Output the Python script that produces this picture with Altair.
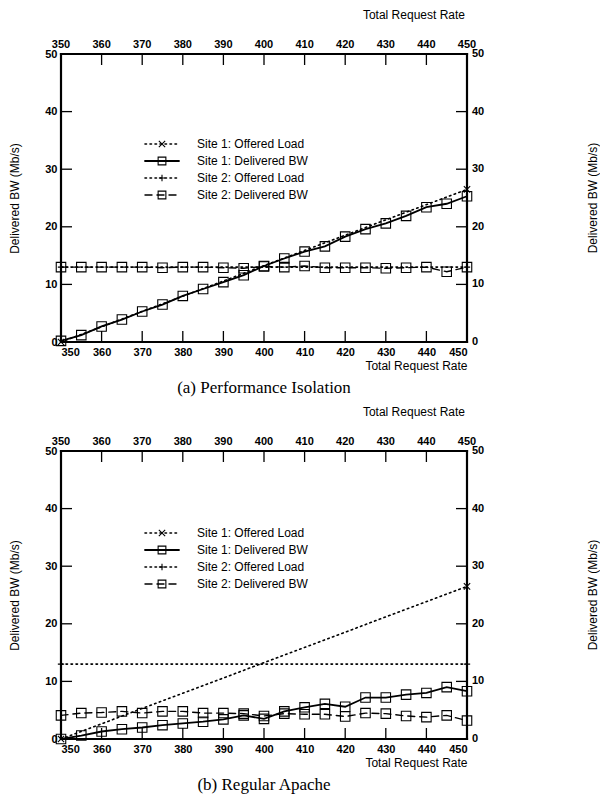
import altair as alt
import pandas as pd

# ---------------- data ----------------
X_RATE = [350, 355, 360, 365, 370, 375, 380, 385, 390, 395, 400,
          405, 410, 415, 420, 425, 430, 435, 440, 445, 450]

A_S1_DELIV = [0.2, 1.2, 2.7, 3.9, 5.3, 6.5, 8.0, 9.2, 10.4, 11.6, 13.2,
              14.5, 15.7, 16.6, 18.3, 19.6, 20.6, 21.9, 23.4, 24.0, 25.3]
A_S2_DELIV = [13.0, 13.0, 13.0, 13.0, 13.0, 12.9, 13.0, 13.0, 12.9, 12.8, 13.1,
              13.0, 13.2, 12.9, 12.9, 12.9, 12.8, 12.9, 13.0, 12.2, 13.0]

B_S1_DELIV = [0.0, 0.6, 1.3, 1.7, 2.0, 2.4, 2.7, 3.0, 3.4, 4.1, 3.5,
              4.8, 5.5, 6.1, 5.6, 7.2, 7.2, 7.7, 8.0, 9.0, 8.3]
B_S2_DELIV = [4.1, 4.5, 4.6, 4.8, 4.5, 4.8, 4.8, 4.5, 4.5, 4.4, 4.0,
              4.4, 4.3, 4.3, 3.9, 4.5, 4.4, 4.0, 3.8, 4.1, 3.2]

OFFER_X = [350, 450]
S1_OFFER = [0.0, 26.5]
S2_OFFER = [13.0, 13.0]

X_TICKS = [350, 360, 370, 380, 390, 400, 410, 420, 430, 440, 450]
Y_TICKS = [0, 10, 20, 30, 40, 50]

LEGEND = ["Site 1: Offered Load", "Site 1: Delivered BW",
          "Site 2: Offered Load", "Site 2: Delivered BW"]
CAPTIONS = ["(a) Performance Isolation", "(b) Regular Apache"]
X_TITLE = "Total Request Rate"
Y_TITLE = "Delivered BW (Mb/s)"

# ---------------- styling ----------------
W, H = 406, 288
TICK = 11
SANS = "Liberation Sans"
X_PATH = "M-1,-1L1,1M-1,1L1,-1"
PLUS_PATH = "M-1,0L1,0M0,-1L0,1"
TICK_UP = "M0,0L0,-2"
TICK_DOWN = "M0,0L0,2"
TICK_RIGHT = "M0,0L2,0"
TICK_LEFT = "M0,0L-2,0"
DOT = [1.5, 3.5]
DASH = [7, 5]

X_MIN, X_MAX = X_TICKS[0], X_TICKS[-1]
Y_MIN, Y_MAX = Y_TICKS[0], Y_TICKS[-1]

xscale = alt.Scale(domain=[X_MIN, X_MAX], nice=False, zero=False)
yscale = alt.Scale(domain=[Y_MIN, Y_MAX], nice=False)

lab = dict(labelFont=SANS, labelFontSize=11, labelFontWeight="bold",
           labelColor="black", titleFont=SANS, titleFontSize=12,
           titleFontWeight="normal", titleColor="black",
           domain=False, ticks=False, grid=False)

XAX = alt.Axis(orient="bottom", values=X_TICKS, format="d", title=X_TITLE,
               titleAnchor="end", labelPadding=4, titlePadding=3, **lab)
YAX = alt.Axis(orient="left", values=Y_TICKS, format="d", title=Y_TITLE,
               labelPadding=4, titlePadding=23, **lab)


def X(f):
    return alt.X(f, scale=xscale, axis=XAX)


def Y(f):
    return alt.Y(f, scale=yscale, axis=YAX)


def XD(v):
    return alt.XDatum(v, scale=xscale, axis=XAX, type="quantitative")


def YD(v):
    return alt.YDatum(v, scale=yscale, axis=YAX, type="quantitative")


STYLES = [
    dict(dash=DOT, shape=X_PATH, width=1.6),
    dict(dash=None, shape="square", width=1.8),
    dict(dash=DOT, shape=PLUS_PATH, width=1.6),
    dict(dash=DASH, shape="square", width=1.4),
]


def line_layer(xs, ys, style, msize):
    df = pd.DataFrame({"x": xs, "y": ys})
    kw = dict(color="black", strokeWidth=style["width"], strokeCap="round")
    if style["dash"] is not None:
        kw["strokeDash"] = style["dash"]
    ln = alt.Chart(df).mark_line(**kw).encode(x=X("x:Q"), y=Y("y:Q"))
    pt = alt.Chart(df).mark_point(shape=style["shape"], filled=False,
                                  color="black", strokeWidth=1.1,
                                  size=msize, opacity=1).encode(
        x=X("x:Q"), y=Y("y:Q"))
    return [ln, pt]


def tick_layer(df, shape, **enc):
    return alt.Chart(df).mark_point(
        shape=shape, filled=False, color="black", strokeWidth=1.3,
        size=TICK * TICK, opacity=1).encode(**enc)


def panel(s1, s2, caption, leg_y0):
    xt = pd.DataFrame({"t": X_TICKS})
    yt = pd.DataFrame({"t": Y_TICKS})
    one = pd.DataFrame({"s": [X_TITLE], "r": [Y_TITLE]})
    fk = dict(color="black", strokeWidth=2.2, strokeCap="square")

    bottom = tick_layer(xt, TICK_UP, x=X("t:Q"), y=YD(Y_MIN))
    top = tick_layer(xt, TICK_DOWN, x=X("t:Q"), y=YD(Y_MAX))
    left = tick_layer(yt, TICK_RIGHT, y=Y("t:Q"), x=XD(X_MIN))
    right = tick_layer(yt, TICK_LEFT, y=Y("t:Q"), x=XD(X_MAX))

    f_bottom = alt.Chart(one).mark_rule(**fk).encode(
        x=XD(X_MIN), x2=alt.X2Datum(X_MAX), y=YD(Y_MIN))
    f_top = alt.Chart(one).mark_rule(**fk).encode(
        x=XD(X_MIN), x2=alt.X2Datum(X_MAX), y=YD(Y_MAX))
    f_left = alt.Chart(one).mark_rule(**fk).encode(
        y=YD(Y_MIN), y2=alt.Y2Datum(Y_MAX), x=XD(X_MIN))
    f_right = alt.Chart(one).mark_rule(**fk).encode(
        y=YD(Y_MIN), y2=alt.Y2Datum(Y_MAX), x=XD(X_MAX))

    top_lab = alt.Chart(xt).mark_text(
        font=SANS, fontSize=11, fontWeight="bold", color="black",
        baseline="bottom").encode(
        x=X("t:Q"), y=alt.value(-4), text=alt.Text("t:Q", format="d"))
    top_title = alt.Chart(one).mark_text(
        font=SANS, fontSize=12, color="black", align="right",
        baseline="bottom").encode(
        x=alt.value(W - 2), y=alt.value(-32), text="s:N")
    right_lab = alt.Chart(yt).mark_text(
        font=SANS, fontSize=11, fontWeight="bold", color="black",
        align="left", baseline="middle").encode(
        y=Y("t:Q"), x=alt.value(W + 5), text=alt.Text("t:Q", format="d"))
    right_title = alt.Chart(one).mark_text(
        font=SANS, fontSize=12, color="black", align="center",
        baseline="middle", angle=270).encode(
        x=alt.value(W + 126), y=alt.value(H / 2), text="r:N")

    layers = [top_lab, top_title, right_lab, right_title]
    layers += line_layer(OFFER_X, S1_OFFER, STYLES[0], 40)
    layers += line_layer(X_RATE, s1, STYLES[1], 90)
    layers += line_layer(OFFER_X, S2_OFFER, STYLES[2], 40)
    layers += line_layer(X_RATE, s2, STYLES[3], 90)

    # legend
    for i, label in enumerate(LEGEND):
        st = STYLES[i]
        yy = leg_y0 + 17 * i
        d = pd.DataFrame({"label": [label]})
        kw = dict(color="black", strokeWidth=st["width"], strokeCap="round")
        if st["dash"] is not None:
            kw["strokeDash"] = st["dash"]
        layers.append(alt.Chart(d).mark_rule(**kw).encode(
            x=alt.value(84), x2=alt.value(118), y=alt.value(yy)))
        layers.append(alt.Chart(d).mark_point(
            shape=st["shape"], filled=False, color="black", strokeWidth=1.1,
            size=40 if i % 2 == 0 else 60, opacity=1).encode(
            x=alt.value(101), y=alt.value(yy)))
        layers.append(alt.Chart(d).mark_text(
            align="left", baseline="middle", font=SANS, fontSize=12,
            color="black").encode(
            x=alt.value(136), y=alt.value(yy), text="label:N"))

    layers += [bottom, top, left, right, f_bottom, f_top, f_left, f_right]

    return alt.layer(*layers).properties(
        width=W, height=H,
        title=alt.TitleParams(text=caption, orient="bottom", anchor="middle",
                              frame="group", font="Liberation Serif",
                              fontSize=17, fontWeight="normal", color="black",
                              offset=9))


pa = panel(A_S1_DELIV, A_S2_DELIV, CAPTIONS[0], 90)
pb = panel(B_S1_DELIV, B_S2_DELIV, CAPTIONS[1], 82)

chart = alt.vconcat(pa, pb, spacing=8).properties(padding=0).configure_view(
    stroke=None).configure(background="white")

chart.save("out.html", embed_options={"renderer": "svg", "actions": False})
